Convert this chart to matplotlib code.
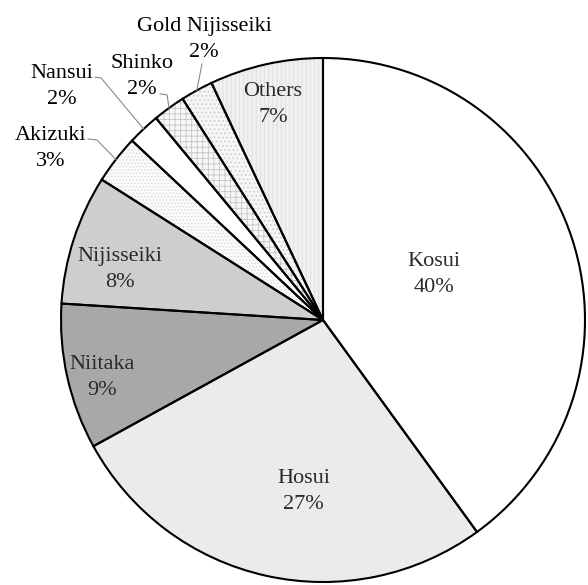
import numpy as np
import matplotlib
matplotlib.use("Agg")
import matplotlib.pyplot as plt
from matplotlib.patches import Wedge

plt.rcParams["font.family"] = ["Liberation Serif", "DejaVu Serif"]
plt.rcParams["hatch.linewidth"] = 0.6

# ── data ─────────────────────────────────────────────────────────────────────
varieties = ["Kosui", "Hosui", "Niitaka", "Nijisseiki", "Akizuki",
             "Nansui", "Shinko", "Gold Nijisseiki", "Others"]
shares = [40, 27, 9, 8, 3, 2, 2, 2, 7]

# ── style ────────────────────────────────────────────────────────────────────
fills = ["white", "#ebebeb", "#a8a8a8", "#cecece", "#fbfbfb",
         "white", "#f7f7f7", "#f6f6f6", "#f0f0f0"]
hatches = [None, None, None, None, ".....", None, "+++", "....", "||||"]
hatch_cols = [None, None, None, None, "#d8d8d8", None, "#c4c4c4", "#c8c8c8", "#dedede"]

# label centres (data units, pie radius = 1)
label_pos = [(0.424, 0.172), (-0.073, -0.656), (-0.844, -0.218), (-0.775, 0.191),
             (-1.038, 0.656), (-0.996, 0.893), (-0.691, 0.931), (-0.454, 1.069),
             (-0.191, 0.821)]
half_gap = 13 / 262  # half the distance between name and percentage lines
# leader line starts for the outside labels
leaders = {
    "Akizuki": [(-0.897, 0.691), (-0.863, 0.687)],
    "Nansui": [(-0.870, 0.927), (-0.847, 0.924)],
    "Shinko": [(-0.622, 0.863), (-0.595, 0.859)],
    "Gold Nijisseiki": [(-0.462, 0.977)],
}

fig = plt.figure(figsize=(5.88, 5.85), dpi=100)
ax = fig.add_axes([0, 0, 1, 1])

wedges, _ = ax.pie(shares, startangle=90, counterclock=False, radius=1,
                   colors=fills, wedgeprops=dict(edgecolor="none", linewidth=0))

for w, h, hc in zip(wedges, hatches, hatch_cols):
    w.set_zorder(1)
    if h:
        ax.add_patch(Wedge(w.center, w.r, w.theta1, w.theta2, facecolor="none",
                           edgecolor=hc, hatch=h, linewidth=0, zorder=2))
    ax.add_patch(Wedge(w.center, w.r, w.theta1, w.theta2, facecolor="none",
                       edgecolor="black", linewidth=1.5, zorder=3))

for name, pct, w, (lx, ly) in zip(varieties, shares, wedges, label_pos):
    outside = name in leaders
    col = "black" if outside else "#2a2a2a"
    ax.text(lx, ly + half_gap, name, ha="center", va="center", fontsize=16,
            color=col, zorder=5)
    ax.text(lx, ly - half_gap, f"{pct}%", ha="center", va="center", fontsize=16,
            color=col, zorder=5)
    if outside:
        mid = np.deg2rad((w.theta1 + w.theta2) / 2)
        pts = leaders[name] + [(np.cos(mid), np.sin(mid))]
        xs, ys = zip(*pts)
        ax.plot(xs, ys, color="#8a8a8a", linewidth=0.8, zorder=4)

ax.set_aspect("equal")
ax.set_xlim(-323 / 262, (588 - 323) / 262)
ax.set_ylim(-(585 - 320) / 262, 320 / 262)
ax.axis("off")

fig.savefig("out.png", dpi=100, facecolor="white")
